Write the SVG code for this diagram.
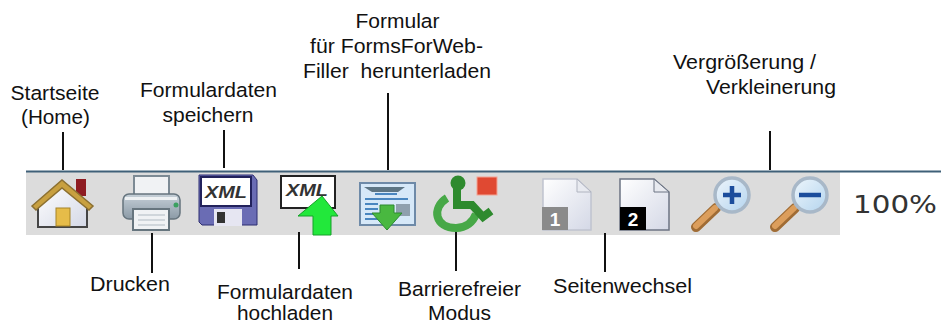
<svg xmlns="http://www.w3.org/2000/svg" width="941" height="324" viewBox="0 0 941 324">
<style>
.t{font-family:"Liberation Sans",Arial,sans-serif;font-size:20.5px;fill:#111}
.c{stroke:#111;stroke-width:2;fill:none}
.x{font-family:"Liberation Sans",Arial,sans-serif;font-weight:bold;font-style:italic;font-size:17px;fill:#333}
.n{font-family:"Liberation Sans",Arial,sans-serif;font-weight:bold;font-size:19px;fill:#fff}
</style>
<defs>
<filter id="b" x="-10%" y="-10%" width="120%" height="120%"><feGaussianBlur stdDeviation="0.7"/></filter>
<linearGradient id="page" x1="0" y1="0" x2="1" y2="1"><stop offset="0" stop-color="#fff"/><stop offset="1" stop-color="#d4d8e6"/></linearGradient>
<linearGradient id="lens" x1="0" y1="0" x2="1" y2="1"><stop offset="0" stop-color="#eef6fc"/><stop offset="1" stop-color="#b4d4ee"/></linearGradient>
<linearGradient id="grey" x1="0" y1="0" x2="0" y2="1"><stop offset="0" stop-color="#c6d0d8"/><stop offset="1" stop-color="#8b9aa6"/></linearGradient>
</defs>
<g id="toolbar">
<rect x="26" y="171" width="915" height="64" fill="#dcdcdc"/>
<rect x="840" y="172" width="101" height="63" fill="#fff"/>
<rect x="26" y="170.500" width="915" height="2" fill="#3f6078"/>
</g>
<g id="connectors" class="c">
<path d="M63 132V170M224 130V168M388 93V170M770 131V170M152 233V273M299 232V269M456 232V271M605 233V272"/>
</g>
<g id="home">
<g filter="url(#b)">
<rect x="76" y="179" width="10" height="17" fill="#8e1c22"/>
<path d="M38 204L62 184L87 204V227H38Z" fill="url(#page)" stroke="#444" stroke-width="2"/>
<path d="M32 206L62 180L93 206L89 210L62 188L36 210Z" fill="#c8a040" stroke="#8c7030" stroke-width="1.500"/>
<rect x="56" y="208" width="14" height="18" fill="#e6bc48" stroke="#a68428"/>
</g>
<text class="t" x="10.500" y="100" textLength="89" lengthAdjust="spacingAndGlyphs">Startseite</text>
<text class="t" x="21" y="124" textLength="69" lengthAdjust="spacingAndGlyphs">(Home)</text>
</g>
<g id="print">
<g filter="url(#b)">
<rect x="134" y="176" width="35" height="22" fill="#f0f2f4" stroke="#7c8a94" stroke-width="2"/>
<rect x="123" y="194" width="57" height="25" rx="6" fill="url(#grey)" stroke="#66747e" stroke-width="1.500"/>
<rect x="125" y="197" width="52" height="3" fill="#eef1f3"/>
<circle cx="176" cy="205" r="2.500" fill="#3aa060"/>
<rect x="133" y="209" width="36" height="21" fill="#f0f2f4" stroke="#66747e" stroke-width="2"/>
<path d="M138 215H165M138 220H165M138 225H165" stroke="#b0bac2"/>
</g>
<text class="t" x="90" y="291" textLength="80" lengthAdjust="spacingAndGlyphs">Drucken</text>
</g>
<g id="save">
<g filter="url(#b)">
<path d="M199 175H253L257 180V225H202L199 222Z" fill="#6a6cb4" stroke="#2d2f70"/>
<rect x="201" y="177" width="50" height="29" fill="#fff" stroke="#22245c" stroke-width="2"/>
<rect x="214" y="209" width="28" height="17" fill="#e6e6f2"/>
<rect x="217" y="212" width="8" height="11" fill="#333"/>
</g>
<text class="x" x="205" y="198" textLength="42" lengthAdjust="spacingAndGlyphs">XML</text>
<text class="t" x="140" y="97" textLength="137" lengthAdjust="spacingAndGlyphs">Formulardaten</text>
<text class="t" x="162.500" y="122" textLength="91" lengthAdjust="spacingAndGlyphs">speichern</text>
</g>
<g id="upload">
<g filter="url(#b)">
<rect x="281" y="176" width="54" height="32" fill="#fff" stroke="#222" stroke-width="2"/>
</g>
<text class="x" x="286" y="196" textLength="42" lengthAdjust="spacingAndGlyphs">XML</text>
<path d="M322 196L338 216H331V235H313V216H298Z" fill="#22e83a" stroke="#14a028" filter="url(#b)"/>
<text class="t" x="217" y="299" textLength="136" lengthAdjust="spacingAndGlyphs">Formulardaten</text>
<text class="t" x="237" y="320" textLength="96" lengthAdjust="spacingAndGlyphs">hochladen</text>
</g>
<g id="download">
<g filter="url(#b)">
<rect x="360" y="183" width="55" height="42" fill="#d6e8f8" stroke="#6e8aa8" stroke-width="2"/>
<path d="M364 187H405L398 192H372Z" fill="#5d7484"/>
<path d="M375 194H397M365 199H408M365 204H378M365 209H378M365 214H378M365 219H378" stroke="#4a86c0" stroke-width="2"/>
<rect x="396" y="204" width="14" height="12" fill="#8fa0ae"/>
<path d="M380 205H394V213H402L387 230L372 213H380Z" fill="#48b840" stroke="#2c8a30"/>
</g>
<text class="t" x="355.500" y="28" textLength="84" lengthAdjust="spacingAndGlyphs">Formular</text>
<text class="t" x="310" y="53" textLength="173" lengthAdjust="spacingAndGlyphs">für FormsForWeb-</text>
<text class="t" x="303" y="78" textLength="188" lengthAdjust="spacingAndGlyphs" xml:space="preserve">Filler  herunterladen</text>
</g>
<g id="accessibility">
<g filter="url(#b)">
<circle cx="458" cy="183" r="7.500" fill="#2e8a2e"/>
<path d="M447 198C431 208 435 228 456 228C466 228 473 222 476 214" fill="none" stroke="#46a846" stroke-width="8"/>
<path d="M457 188V205H472L483 217L491 211" fill="none" stroke="#2e8a2e" stroke-width="8"/>
<rect x="477" y="177" width="20" height="18" fill="#e04a32" stroke="#f3a494"/>
</g>
<text class="t" x="398" y="296" textLength="123" lengthAdjust="spacingAndGlyphs">Barrierefreier</text>
<text class="t" x="428" y="320" textLength="63" lengthAdjust="spacingAndGlyphs">Modus</text>
</g>
<g id="page-switch">
<g filter="url(#b)">
<path d="M543 179H577L591 192V230H543Z" fill="url(#page)" stroke="#c0c4d0" stroke-width="1.500"/>
<path d="M577 179V192H591Z" fill="#e8eaf0" stroke="#b0b4c0"/>
<rect x="542" y="207" width="26" height="23" fill="#8a8a8a"/>
<path d="M620 179H654L669 192V230H620Z" fill="url(#page)" stroke="#6c7484" stroke-width="1.500"/>
<path d="M654 179V192H669Z" fill="#e8eaf0" stroke="#6c7484"/>
<rect x="620" y="207" width="26" height="23" fill="#000"/>
</g>
<text class="n" x="555" y="226" text-anchor="middle">1</text>
<text class="n" x="633" y="226" text-anchor="middle">2</text>
<text class="t" x="553" y="293" textLength="139" lengthAdjust="spacingAndGlyphs">Seitenwechsel</text>
</g>
<g id="zoom">
<g filter="url(#b)">
<path d="M696 227L716 208" stroke="#a06c34" stroke-width="10" stroke-linecap="round"/>
<path d="M696 226L715 208" stroke="#dc9e5c" stroke-width="6" stroke-linecap="round"/>
<circle cx="732" cy="195" r="17" fill="url(#lens)" stroke="#a8b8c8" stroke-width="3.500"/>
<path d="M723 195H741M732 186V204" stroke="#1c4e9c" stroke-width="4.500"/>
<path d="M775 227L795 208" stroke="#a06c34" stroke-width="10" stroke-linecap="round"/>
<path d="M775 226L794 208" stroke="#dc9e5c" stroke-width="6" stroke-linecap="round"/>
<circle cx="810" cy="195" r="17" fill="url(#lens)" stroke="#a8b8c8" stroke-width="3.500"/>
<path d="M799 195H821" stroke="#1c4e9c" stroke-width="4.500"/>
</g>
<text x="853" y="213" font-family="'DejaVu Sans',sans-serif" font-size="25" fill="#333" textLength="84" lengthAdjust="spacingAndGlyphs">100%</text>
<text class="t" x="673" y="69" textLength="143" lengthAdjust="spacingAndGlyphs">Vergrößerung /</text>
<text class="t" x="706" y="94" textLength="130" lengthAdjust="spacingAndGlyphs">Verkleinerung</text>
</g>
</svg>
